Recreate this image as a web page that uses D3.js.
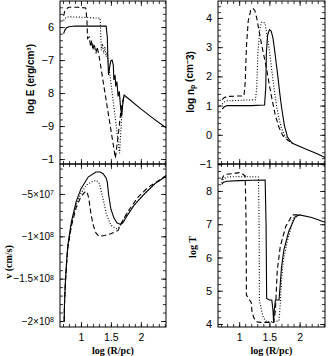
<!DOCTYPE html>
<html lang="en">
<head>
<meta charset="utf-8" />
<title>profiles</title>
<script src="https://cdn.jsdelivr.net/npm/d3@7/dist/d3.min.js"></script>
<style>
  body { margin: 0; background: #fff; }
  svg { display: block; }
  .tick text { font-family: "Liberation Sans", Arial, sans-serif; font-size: 11px; fill: #000; }
  .tick line { stroke: #000; stroke-width: 0.8; }
  .frame { fill: none; stroke: #000; stroke-width: 1; }
  .curve { fill: none; stroke: #000; stroke-width: 1.1; }
  .title-sans { font-family: "Liberation Sans", Arial, sans-serif; font-weight: bold; font-size: 10px; }
  .title-serif { font-family: "Liberation Serif", "Times New Roman", serif; font-weight: bold; font-size: 10px; }
</style>
</head>
<body>
<svg width="329" height="356"></svg>
<script>
// x axis: log (R/pc)
var xDomain = [0.65, 2.42];
var xMajor = [1, 1.5, 2];
var xLabels = ["1", "1.5", "2"];

// log E (erg/cm^3)  -- solid, dotted, dashed
var eSolid = [[0.71,-6.2],[0.73,-6.1],[0.76,-6.02],[0.8,-5.99],[0.9,-5.97],[1.2,-5.97],[1.42,-5.97],[1.44,-6.3],[1.45,-7.0],[1.46,-7.45],[1.48,-7.2],[1.5,-7.02],[1.52,-7.0],[1.54,-7.15],[1.55,-7.6],[1.57,-7.45],[1.58,-7.8],[1.6,-7.65],[1.62,-8.1],[1.64,-7.95],[1.66,-8.4],[1.68,-8.7],[1.7,-8.3],[1.72,-8.06],[1.8,-8.18],[2.0,-8.48],[2.2,-8.76],[2.42,-9.05]];
var eDot = [[0.71,-5.8],[0.73,-5.74],[0.76,-5.7],[0.8,-5.69],[1.0,-5.7],[1.2,-5.72],[1.32,-5.73],[1.33,-6.2],[1.34,-6.7],[1.36,-6.5],[1.38,-6.8],[1.4,-6.6],[1.42,-6.9],[1.44,-6.75],[1.46,-7.1],[1.645,-9.82],[1.67,-9.0],[1.69,-8.4],[1.72,-8.06]];
var eDash = [[0.71,-5.66],[0.73,-5.52],[0.76,-5.44],[0.8,-5.4],[0.95,-5.4],[1.08,-5.42],[1.1,-5.8],[1.11,-6.35],[1.14,-6.3],[1.16,-6.6],[1.18,-6.4],[1.2,-6.7],[1.22,-6.5],[1.25,-6.8],[1.27,-6.6],[1.3,-6.85],[1.575,-9.97],[1.62,-9.3],[1.67,-8.5],[1.72,-8.06]];
var eTicks = [-6, -7, -8, -9, -10];
var eLabels = ["6", "\u22127", "8", "\u22129", "\u22121"];

// log n_p (cm^-3)
var nSolid = [[0.72,0.88],[0.75,0.95],[0.8,1.0],[1.0,1.0],[1.2,1.0],[1.42,1.02],[1.44,1.6],[1.45,2.8],[1.47,3.4],[1.5,3.6],[1.53,3.55],[1.56,3.3],[1.58,3.0],[1.61,2.5],[1.64,2.0],[1.67,1.45],[1.7,0.96],[1.75,0.3],[1.8,-0.08],[1.85,-0.22],[1.88,-0.29],[2.1,-0.49],[2.3,-0.66],[2.42,-0.78]];
var nDot = [[0.72,1.05],[0.75,1.12],[0.8,1.16],[1.0,1.18],[1.27,1.2],[1.29,1.6],[1.31,2.8],[1.34,3.6],[1.37,3.85],[1.4,3.87],[1.43,3.8],[1.46,3.4],[1.5,2.9],[1.54,2.2],[1.58,1.55],[1.62,0.96],[1.66,0.55],[1.7,0.22],[1.75,-0.02],[1.8,-0.15],[1.88,-0.29]];
var nDash = [[0.72,1.2],[0.75,1.27],[0.8,1.31],[1.0,1.33],[1.08,1.33],[1.1,1.8],[1.12,3.0],[1.15,3.9],[1.19,4.25],[1.23,4.33],[1.26,4.25],[1.29,4.0],[1.33,3.55],[1.37,3.1],[1.41,2.7],[1.45,2.3],[1.5,1.7],[1.55,1.15],[1.6,0.65],[1.66,0.25],[1.72,-0.02],[1.8,-0.18],[1.88,-0.29]];
var nTicks = [-1, 0, 1, 2, 3, 4];
var nLabels = ["\u22121", "0", "1", "2", "3", "4"];

// v (cm/s)
var vSolid = [[0.72,-2.0e8],[0.725,-1.8e8],[0.74,-1.54e8],[0.76,-1.3e8],[0.78,-1.11e8],[0.84,-8.3e7],[0.92,-5.9e7],[1.0,-4.4e7],[1.12,-3.0e7],[1.25,-2.4e7],[1.32,-2.4e7],[1.37,-2.6e7],[1.42,-3.1e7],[1.44,-3.6e7],[1.46,-5.0e7],[1.5,-6.8e7],[1.55,-7.8e7],[1.6,-8.4e7],[1.66,-8.6e7],[1.7,-8.4e7],[1.75,-7.8e7],[1.89,-6.3e7],[2.06,-5.0e7],[2.23,-3.8e7],[2.42,-2.9e7]];
var vDot = [[0.72,-2.0e8],[0.725,-1.8e8],[0.74,-1.55e8],[0.76,-1.32e8],[0.78,-1.13e8],[0.84,-8.6e7],[0.92,-6.3e7],[1.0,-4.9e7],[1.1,-3.9e7],[1.2,-3.5e7],[1.26,-3.4e7],[1.31,-3.8e7],[1.37,-5.6e7],[1.42,-7.3e7],[1.5,-8.7e7],[1.59,-9.1e7],[1.64,-8.9e7],[1.7,-8.1e7],[1.8,-7.1e7],[1.95,-5.8e7],[2.1,-4.7e7],[2.25,-3.7e7],[2.42,-2.9e7]];
var vDash = [[0.72,-2.0e8],[0.725,-1.8e8],[0.74,-1.55e8],[0.76,-1.32e8],[0.78,-1.14e8],[0.84,-8.8e7],[0.92,-6.6e7],[1.0,-5.3e7],[1.06,-4.8e7],[1.1,-4.7e7],[1.13,-5.5e7],[1.17,-7.5e7],[1.21,-8.8e7],[1.25,-9.6e7],[1.3,-1.0e8],[1.4,-9.9e7],[1.5,-9.7e7],[1.62,-9.3e7],[1.67,-8.5e7],[1.78,-7.1e7],[1.95,-5.4e7],[2.12,-4.2e7],[2.28,-3.5e7],[2.42,-2.8e7]];
var vTicks = [-5e7, -1e8, -1.5e8, -2e8];
var vLabels = [["\u22125\u00d710", "7"], ["\u22121\u00d710", "8"], ["\u22121.5\u00d710", "8"], ["\u22122\u00d710", "8"]];

// log T
var tSolid = [[0.71,8.2],[0.74,8.26],[0.8,8.29],[1.0,8.31],[1.2,8.32],[1.43,8.33],[1.445,7.0],[1.455,4.77],[1.5,4.72],[1.54,4.72],[1.56,4.4],[1.57,4.05],[1.58,4.4],[1.6,4.72],[1.66,4.72],[1.68,5.2],[1.7,5.7],[1.74,6.23],[1.82,6.78],[1.93,7.23],[2.0,7.28],[2.2,7.2],[2.42,7.06]];
var tDot = [[0.71,8.25],[0.74,8.36],[0.8,8.42],[1.0,8.43],[1.32,8.42],[1.33,7.0],[1.335,4.7],[1.36,4.5],[1.4,4.2],[1.45,4.07],[1.6,4.07],[1.66,4.1],[1.68,4.6],[1.7,5.3],[1.73,5.9],[1.79,6.44],[1.9,7.18],[2.0,7.28]];
var tDash = [[0.71,8.33],[0.74,8.45],[0.8,8.5],[0.9,8.52],[1.0,8.55],[1.05,8.52],[1.1,8.45],[1.115,7.0],[1.12,4.87],[1.16,4.75],[1.2,4.65],[1.21,4.4],[1.24,4.2],[1.28,4.07],[1.35,4.05],[1.57,4.05],[1.6,4.4],[1.63,5.6],[1.68,6.33],[1.77,6.93],[1.88,7.28],[2.0,7.28]];
var tTicks = [4, 5, 6, 7, 8];
var tLabels = ["4", "5", "6", "7", "8"];

var svg = d3.select("svg");
var dashes = [null, "1,1.8", "5,3"];

var panels = [
    { left: 60, top: 1, w: 106, h: 163, yDomain: [-10.15, -5.21], minor: 0.2, series: [eSolid, eDot, eDash], ticks: eTicks, labels: eLabels, xlab: false },
    { left: 218, top: 1, w: 107, h: 163, yDomain: [-1, 4.58], minor: 0.2, series: [nSolid, nDot, nDash], ticks: nTicks, labels: nLabels, xlab: false },
    { left: 60, top: 164, w: 106, h: 163, yDomain: [-2.071e8, -1.46e7], minor: 1e7, series: [vSolid, vDot, vDash], ticks: vTicks, labels: null, xlab: true },
    { left: 218, top: 164, w: 107, h: 163, yDomain: [3.91, 8.81], minor: 0.2, series: [tSolid, tDot, tDash], ticks: tTicks, labels: tLabels, xlab: true }
];

function range(a, b, step) {
    var out = [];
    for (var v = Math.ceil(a / step - 1e-6); v * step <= b + 1e-9; v++) out.push(+(v * step).toFixed(4));
    return out;
}

var xMinor = range(xDomain[0], xDomain[1], 0.1);

panels.forEach(function (p) {
    var g = svg.append("g").attr("transform", "translate(" + p.left + "," + p.top + ")");
    var x = d3.scaleLinear().domain(xDomain).range([0, p.w]);
    var y = d3.scaleLinear().domain(p.yDomain).range([p.h, 0]);
    var yMinor = range(p.yDomain[0], p.yDomain[1], p.minor);

    function addAxis(axis, tx, ty, vals, size, fmt, pad) {
        var a = g.append("g").attr("transform", "translate(" + tx + "," + ty + ")")
            .call(axis.tickValues(vals).tickSize(-size).tickPadding(pad || 6).tickFormat(fmt || ""));
        a.select(".domain").remove();
        return a;
    }

    // minor ticks, all four sides, pointing inward
    addAxis(d3.axisBottom(x), 0, p.h, xMinor, 3);
    addAxis(d3.axisTop(x), 0, 0, xMinor, 3);
    addAxis(d3.axisLeft(y), 0, 0, yMinor, 3);
    addAxis(d3.axisRight(y), p.w, 0, yMinor, 3);
    // major ticks
    addAxis(d3.axisTop(x), 0, 0, xMajor, 5);
    addAxis(d3.axisRight(y), p.w, 0, p.ticks, 5);
    var xb = addAxis(d3.axisBottom(x), 0, p.h, xMajor, 5,
        p.xlab ? function (d, i) { return xLabels[i]; } : null, 7);
    xb.selectAll("text").style("font-size", "10.5px");

    var yl = addAxis(d3.axisLeft(y), 0, 0, p.ticks, 5,
        p.labels ? function (d, i) { return p.labels[i]; } : null);
    if (!p.labels) {
        yl.selectAll(".tick text").each(function (d, i) {
            var t = d3.select(this).text(null).style("font-size", "10px").attr("dy", "0.32em");
            t.append("tspan").text(vLabels[i][0]);
            t.append("tspan").attr("dy", "-0.4em").style("font-size", "7px").text(vLabels[i][1]);
        });
    }

    var line = d3.line().x(function (d) { return x(d[0]); }).y(function (d) { return y(d[1]); });
    p.series.forEach(function (s, i) {
        g.append("path").attr("class", "curve").attr("d", line(s))
            .attr("stroke-dasharray", dashes[i]);
    });

    g.append("rect").attr("class", "frame").attr("width", p.w).attr("height", p.h);

    if (p.xlab) {
        svg.append("text").attr("class", "title-serif")
            .attr("x", p.left + p.w / 2).attr("y", 354)
            .attr("text-anchor", "middle").text("log (R/pc)");
    }
});

// y axis titles
function yTitle(cx, cy, cls) {
    return svg.append("text").attr("class", cls)
        .attr("transform", "translate(" + cx + "," + cy + ") rotate(-90)")
        .attr("text-anchor", "middle").attr("dominant-baseline", "central");
}
yTitle(30, 79, "title-sans").text("log E (erg/cm\u00b3)");
var np = yTitle(190, 82, "title-sans");
np.append("tspan").text("log n");
np.append("tspan").attr("dy", "0.3em").style("font-size", "7px").text("p");
np.append("tspan").attr("dy", "-0.3em").text(" (cm");
np.append("tspan").attr("dy", "-0.35em").style("font-size", "7px").text("\u2212");
np.append("tspan").attr("dy", "0.35em").text("3)");
yTitle(8, 262, "title-serif").text("v (cm/s)");
yTitle(192, 247, "title-serif").text("log T");
</script>
</body>
</html>
